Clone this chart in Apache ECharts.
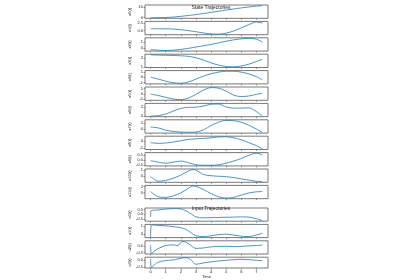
<!DOCTYPE html>
<html>
<head>
<meta charset="utf-8">
<script src="https://cdn.jsdelivr.net/npm/echarts@6/dist/echarts.min.js"></script>
<style>
html, body { margin: 0; padding: 0; background: #fff; }
#main { width: 400px; height: 280px; }
</style>
</head>
<body>
<div id="main"></div>
<script>
// time samples
var tState = [0, 0.5, 1, 1.5, 2, 2.5, 2.8, 3, 3.5, 4, 4.5, 5, 5.5, 6, 6.5, 7, 7.4];
var tInput = [0, 0.05, 0.25, 0.5, 1, 1.5, 1.8, 2.1, 2.4, 2.7, 3, 3.5, 4, 4.5, 5, 5.5, 6, 6.5, 7, 7.4];

// state trajectories
var x0 = [0, 0.05, 0.2, 0.6, 1.3, 2.1, 2.6, 3.0, 4.0, 5.1, 6.2, 7.3, 8.3, 9.3, 10.2, 11.0, 11.5];
var x1 = [0.6, 0.6, 0.58, 0.5, 0.3, 0.0, -0.2, -0.35, -0.75, -1.05, -1.1, -0.8, -0.1, 0.9, 1.9, 2.75, 2.4];
var x2 = [-0.2, -0.33, -0.38, -0.33, -0.2, -0.02, 0.1, 0.2, 0.4, 0.62, 0.88, 1.15, 1.38, 1.55, 1.62, 1.5, 1.0];
var x3 = [2.35, 2.32, 2.3, 2.27, 2.24, 2.18, 2.1, 2.02, 1.75, 1.45, 1.2, 1.05, 1.0, 1.1, 1.3, 1.6, 1.85];
var x4 = [0.0, -0.35, -0.75, -1.05, -1.15, -0.9, -0.6, -0.35, 0.2, 0.65, 0.95, 1.12, 1.12, 0.95, 0.6, 0.1, -0.5];
var x5 = [-0.05, -0.3, -0.65, -0.95, -1.08, -0.8, -0.4, -0.1, 0.7, 1.15, 1.05, 0.5, -0.25, -0.5, -0.4, -0.1, 0.1];
var x6 = [0.0, 0.1, 0.45, 1.1, 1.7, 1.9, 1.92, 1.95, 2.2, 2.6, 2.65, 2.0, 1.75, 1.75, 1.8, 1.0, 0.0];
var x7 = [0.65, 0.4, -0.35, -0.8, -1.0, -1.05, -1.05, -1.0, -0.3, 1.2, 2.3, 2.9, 2.8, 2.3, 1.3, 0.0, -1.15];
var x8 = [-0.2, -0.3, -0.25, -0.1, 0.1, 0.3, 0.35, 0.4, 0.45, 0.55, 0.68, 0.7, 0.55, 0.25, -0.2, -0.65, -1.15];
var x9 = [-0.05, -0.2, -0.3, -0.2, -0.1, -0.25, -0.38, -0.45, -0.5, -0.5, -0.45, -0.3, -0.1, 0.15, 0.45, 0.65, 0.5];
var x10 = [0.0, -0.78, -0.65, -0.3, 0.2, 0.85, 1.08, 1.0, 0.3, 0.1, 0.02, -0.05, -0.2, -0.4, -0.6, -0.78, -0.85];
var x11 = [0.3, -1.5, -1.7, -1.2, -0.2, 1.4, 2.2, 2.1, 1.0, -0.4, -1.5, -1.95, -1.7, -0.9, -0.2, 0.2, 0.3];

// input trajectories
var u0 = [-0.3, 0.4, 0.42, 0.45, 0.55, 0.6, 0.6, 0.52, 0.3, 0.0, -0.3, -0.4, -0.38, -0.36, -0.34, -0.32, -0.3, -0.32, -0.5, -0.7];
var u1 = [-0.4, 1.1, 1.08, 1.05, 1.0, 0.9, 0.82, 0.72, 0.5, 0.1, -0.25, -0.35, -0.25, -0.1, -0.05, -0.15, -0.3, -0.35, -0.15, 0.05];
var u2 = [0.05, -0.55, -0.4, -0.2, 0.03, 0.07, 0.02, 0.33, 0.25, 0.0, -0.18, -0.15, -0.07, -0.04, -0.03, -0.05, -0.04, 0.0, 0.03, 0.06];
var u3 = [0.1, -0.55, -0.35, -0.15, -0.02, 0.03, 0.1, 0.18, 0.2, 0.0, -0.3, -0.2, -0.12, -0.05, 0.0, 0.05, 0.08, 0.05, 0.0, -0.02];

var stateNames = ['x0(t)', 'x1(t)', 'x2(t)', 'x3(t)', 'x4(t)', 'x5(t)', 'x6(t)', 'x7(t)', 'x8(t)', 'x9(t)', 'x10(t)', 'x11(t)'];
var inputNames = ['u0(t)', 'u1(t)', 'u2(t)', 'u3(t)'];
var xTicks = [0, 1, 2, 3, 4, 5, 6, 7];

// y tick labels shown on each panel
var stateTicks = [[0, 10], [0, 2.5], [0, 1], [1, 2], [-1, 0, 1], [-1, 0, 1], [0, 2], [0, 2], [-1, 0], [-0.5, 0, 0.5], [0, 1], [0, 2]];
var inputTicks = [[-0.5, 0, 0.5], [0, 1], [-0.5, 0], [-0.5, 0]];
var stateDec = [0, 1, 0, 0, 0, 0, 0, 0, 0, 1, 0, 0];
var inputDec = [1, 0, 1, 1];

var Chart = echarts.init(document.getElementById('main'));

var stateVals = [x0, x1, x2, x3, x4, x5, x6, x7, x8, x9, x10, x11];
var inputVals = [u0, u1, u2, u3];

var panels = [];
stateVals.forEach(function (v, i) {
    panels.push({ t: tState, v: v, name: stateNames[i], ticks: stateTicks[i], dec: stateDec[i],
                  top: 5 + i * 16.4, h: 13.3 });
});
inputVals.forEach(function (v, i) {
    panels.push({ t: tInput, v: v, name: inputNames[i], ticks: inputTicks[i], dec: inputDec[i],
                  top: 208 + i * 16.4, h: 13.2 });
});

var grids = [], xAxes = [], yAxes = [], series = [];
panels.forEach(function (p, i) {
    var lo = Math.min.apply(null, p.v), hi = Math.max.apply(null, p.v);
    var pad = (hi - lo) * 0.05;
    var last = (i == panels.length - 1);
    grids.push({ left: 145, width: 123, top: p.top, height: p.h, show: true,
                 borderColor: '#555', borderWidth: 0.8 });
    xAxes.push({
        type: 'value', gridIndex: i, min: -0.37, max: 7.77, position: 'bottom',
        axisLine: { show: false, onZero: false }, splitLine: { show: false },
        axisTick: { show: true, customValues: xTicks, length: 1.5, lineStyle: { color: '#555', width: 0.6 } },
        axisLabel: { show: last, customValues: xTicks, fontSize: 4, margin: 2, color: '#222' },
        name: last ? 'Time' : '', nameLocation: 'middle', nameGap: 7,
        nameTextStyle: { fontSize: 4, color: '#222' }
    });
    yAxes.push({
        type: 'value', gridIndex: i, min: lo - pad, max: hi + pad, position: 'left',
        axisLine: { show: false, onZero: false }, splitLine: { show: false },
        axisTick: { show: true, customValues: p.ticks, length: 1.5, lineStyle: { color: '#555', width: 0.6 } },
        axisLabel: { customValues: p.ticks, fontSize: 4, margin: 2, color: '#222',
                     formatter: (function (d) { return function (val) { return val.toFixed(d); }; })(p.dec) },
        name: p.name, nameLocation: 'middle', nameRotate: 90, nameGap: 13,
        nameTextStyle: { fontSize: 4, color: '#222' }
    });
    series.push({
        type: 'line', xAxisIndex: i, yAxisIndex: i, showSymbol: false, smooth: 0.3,
        lineStyle: { color: '#1f77b4', width: 0.8 },
        data: p.t.map(function (t, j) { return [t, p.v[j]]; })
    });
});

var option = {
    animation: false,
    backgroundColor: '#fff',
    title: [
        { text: 'State Trajectories', left: 206, top: 0, textAlign: 'center',
          textStyle: { fontSize: 5, fontWeight: 'normal', color: '#222' } },
        { text: 'Input Trajectories', left: 206, top: 201, textAlign: 'center',
          textStyle: { fontSize: 5, fontWeight: 'normal', color: '#222' } }
    ],
    grid: grids,
    xAxis: xAxes,
    yAxis: yAxes,
    series: series
};

Chart.setOption(option);
</script>
</body>
</html>
